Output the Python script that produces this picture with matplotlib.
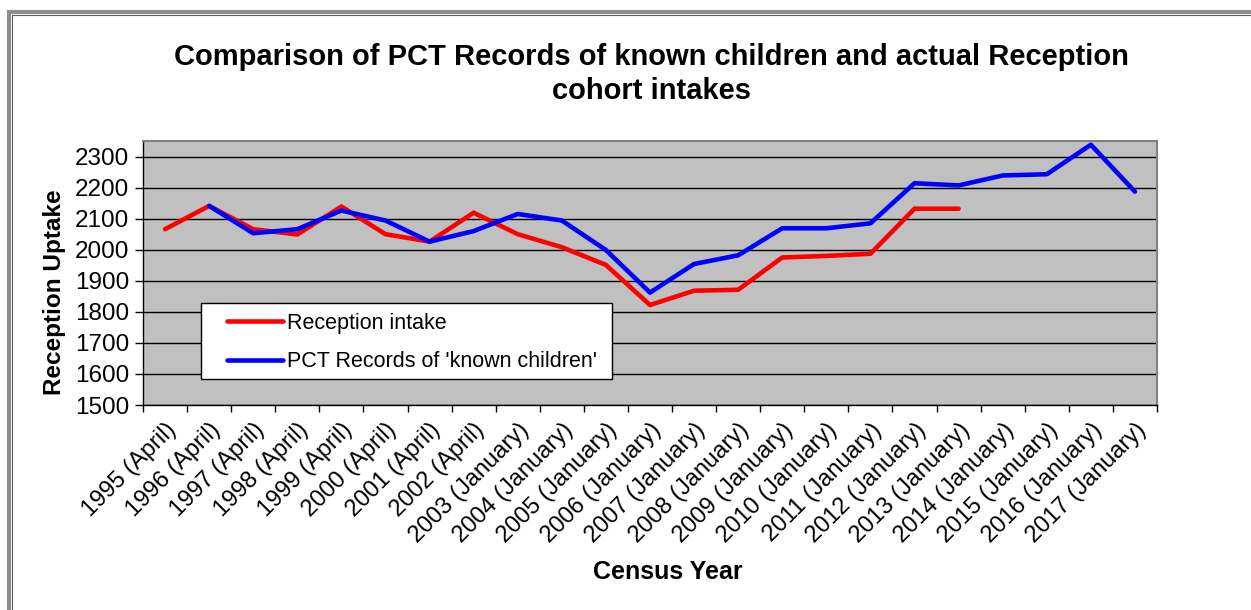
import numpy as np
import matplotlib.pyplot as plt
from matplotlib.patches import Rectangle

plt.rcParams['font.family'] = ['Liberation Sans', 'DejaVu Sans']

years = ["1995 (April)", "1996 (April)", "1997 (April)", "1998 (April)", "1999 (April)",
         "2000 (April)", "2001 (April)", "2002 (April)", "2003 (January)", "2004 (January)",
         "2005 (January)", "2006 (January)", "2007 (January)", "2008 (January)",
         "2009 (January)", "2010 (January)", "2011 (January)", "2012 (January)",
         "2013 (January)", "2014 (January)", "2015 (January)", "2016 (January)",
         "2017 (January)"]

# Reception intake (ends 2013)
reception = [2066, 2141, 2066, 2049, 2139, 2050, 2026, 2119, 2050, 2008, 1951,
             1822, 1868, 1871, 1975, 1980, 1987, 2132, 2132]
# PCT records of known children (starts 1996)
pct = [2141, 2053, 2066, 2126, 2094, 2026, 2060, 2115, 2094, 1999,
       1862, 1954, 1982, 2069, 2069, 2085, 2214, 2207, 2239, 2243, 2338, 2187]

fig = plt.figure(figsize=(12.51, 6.10), dpi=100)
ax = fig.add_axes([143/1251, 1 - 405/610, (1157-143)/1251, (405-141)/610])
ax.set_facecolor('#c0c0c0')

x = np.arange(len(years))
ax.plot(x[:len(reception)], reception, color='#ff0000', lw=3.3, label='Reception intake',
        solid_capstyle='round', solid_joinstyle='round')
ax.plot(x[1:1+len(pct)], pct, color='#0000ff', lw=3.3, label="PCT Records of 'known children'",
        solid_capstyle='round', solid_joinstyle='round')

ax.set_xlim(-0.5, len(years) - 0.5)
ax.set_ylim(1500, 2350)
ax.set_yticks(np.arange(1500, 2301, 100))
ax.yaxis.grid(True, color='black', lw=1)
ax.set_axisbelow(True)
ax.tick_params(axis='y', direction='out', length=6, width=1, pad=4, labelsize=17.5)

ax.set_xticks(x)
ax.set_xticklabels(years, rotation=45, ha='right', rotation_mode='anchor', fontsize=17)
ax.set_xticks(np.arange(-0.5, len(years)), minor=True)
ax.tick_params(axis='x', which='major', length=0, pad=10)
ax.tick_params(axis='x', which='minor', direction='out', length=5, width=1)

for s in ['top', 'right']:
    ax.spines[s].set_color('#808080')
    ax.spines[s].set_linewidth(1.5)
for s in ['left', 'bottom']:
    ax.spines[s].set_color('black')
    ax.spines[s].set_linewidth(1)

# legend box drawn separately, legend entries on top
ax.add_patch(Rectangle(((201-143)/1014, (405-379)/264), 411/1014, 76/264,
                       transform=ax.transAxes, facecolor='white', edgecolor='black',
                       lw=1, zorder=5))
leg = ax.legend(loc='upper left', bbox_to_anchor=((227-143)/1014, (405-313)/264),
                fontsize=15.5, frameon=False, handlelength=2.6, handletextpad=0.2,
                borderpad=0, borderaxespad=0, labelspacing=0.8)
leg.set_zorder(6)

fig.text(651/1251, 1 - 74/610,
         "Comparison of PCT Records of known children and actual Reception\ncohort intakes",
         ha='center', va='center', fontsize=21, fontweight='bold', linespacing=1.25)
fig.text(55/1251, 1 - 292/610, "Reception Uptake", rotation=90, ha='center', va='center',
         fontsize=17.5, fontweight='bold')
fig.text(668/1251, 1 - 572/610, "Census Year", ha='center', va='center',
         fontsize=18, fontweight='bold')

# outer chart frame
fig.patches.append(Rectangle((9/1251, -0.1), 1.2, 1 - 12/610 + 0.1, transform=fig.transFigure,
                             fill=False, edgecolor='#8c8c8c', lw=3))
fig.patches.append(Rectangle((12.5/1251, -0.1), 1.2, 1 - 14.5/610 + 0.1, transform=fig.transFigure,
                             fill=False, edgecolor='#606060', lw=0.8))

fig.savefig('out.png', dpi=100)
